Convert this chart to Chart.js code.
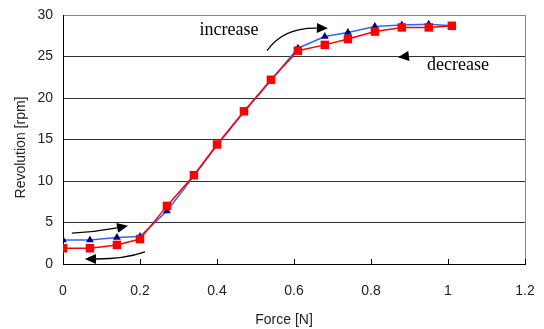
<!DOCTYPE html>
<html>
<head>
<meta charset="utf-8">
<script src="https://cdn.jsdelivr.net/npm/chart.js@4/dist/chart.umd.min.js"></script>
<style>
html,body{margin:0;padding:0;background:#fff;}
canvas{display:block;}
</style>
</head>
<body>
<canvas id="c" width="544" height="329"></canvas>
<script>
// ---- data ----
const forceValues = [0, 0.07, 0.14, 0.2, 0.27, 0.34, 0.4, 0.47, 0.54, 0.61, 0.68, 0.74, 0.81, 0.88, 0.95, 1.01];
const revIncrease = [2.9, 2.9, 3.2, 3.3, 6.4, 10.6, 14.3, 18.3, 22.1, 26.0, 27.4, 27.9, 28.6, 28.8, 28.9, 28.7];
const revDecrease = [1.9, 1.9, 2.3, 3.0, 7.0, 10.7, 14.4, 18.4, 22.2, 25.7, 26.4, 27.1, 28.0, 28.5, 28.5, 28.7];
const xTickLabels = ['0', '0.2', '0.4', '0.6', '0.8', '1', '1.2'];
const yTickLabels = ['0', '5', '10', '15', '20', '25', '30'];
const xTitle = 'Force [N]';
const yTitle = 'Revolution [rpm]';
const annotationTexts = ['increase', 'decrease'];

// annotation geometry in data units (x: force, y: revolution)
const arrows = [
  {from: [0.530, 25.7], ctrl: [0.571, 28.5], tip: [0.688, 28.4], curve: true},
  {from: [0.904, 25.1], ctrl: [0.904, 25.1], tip: [0.870, 24.9], curve: false},
  {from: [0.023, 3.73], ctrl: [0.083, 3.86], tip: [0.169, 4.6], curve: true},
  {from: [0.213, 1.45], ctrl: [0.161, 0.6], tip: [0.057, 0.6], curve: true}
];
const textPos = [[0.431, 28.2], [1.026, 24.0]];

const toPts = (ys) => forceValues.map((x, i) => ({x: x, y: ys[i]}));

const decorPlugin = {
  id: 'decor',
  afterDraw(chart) {
    const ctx = chart.ctx, xs = chart.scales.x, ys = chart.scales.y, a = chart.chartArea;
    ctx.save();
    // right frame
    ctx.strokeStyle = '#888';
    ctx.lineWidth = 1;
    ctx.beginPath();
    ctx.moveTo(Math.round(a.right) + 0.5, a.top);
    ctx.lineTo(Math.round(a.right) + 0.5, a.bottom);
    ctx.stroke();
    // inward x tick marks
    ctx.strokeStyle = '#000';
    xs.ticks.forEach(t => {
      const px = Math.round(xs.getPixelForValue(t.value)) + 0.5;
      ctx.beginPath();
      ctx.moveTo(px, a.bottom);
      ctx.lineTo(px, a.bottom - 5);
      ctx.stroke();
    });
    // arrows
    ctx.strokeStyle = '#000';
    ctx.fillStyle = '#000';
    ctx.lineWidth = 1.3;
    arrows.forEach(ar => {
      const f = [xs.getPixelForValue(ar.from[0]), ys.getPixelForValue(ar.from[1])];
      const c = [xs.getPixelForValue(ar.ctrl[0]), ys.getPixelForValue(ar.ctrl[1])];
      const t = [xs.getPixelForValue(ar.tip[0]), ys.getPixelForValue(ar.tip[1])];
      const dx = t[0] - c[0], dy = t[1] - c[1];
      const len = Math.hypot(dx, dy) || 1;
      const ux = dx / len, uy = dy / len;
      const hl = 11, hw = 5;
      const base = [t[0] - ux * hl, t[1] - uy * hl];
      if (ar.curve) {
        ctx.beginPath();
        ctx.moveTo(f[0], f[1]);
        ctx.quadraticCurveTo(c[0], c[1], base[0], base[1]);
        ctx.stroke();
      }
      ctx.beginPath();
      ctx.moveTo(t[0], t[1]);
      ctx.lineTo(base[0] - uy * hw, base[1] + ux * hw);
      ctx.lineTo(base[0] + uy * hw, base[1] - ux * hw);
      ctx.closePath();
      ctx.fill();
    });
    // annotation texts
    ctx.font = '18px "Liberation Serif", "Times New Roman", serif';
    ctx.textAlign = 'center';
    ctx.textBaseline = 'middle';
    annotationTexts.forEach((s, i) => {
      ctx.fillText(s, xs.getPixelForValue(textPos[i][0]), ys.getPixelForValue(textPos[i][1]));
    });
    // axis titles
    ctx.fillStyle = '#222';
    ctx.font = '14px "Liberation Sans", Arial, sans-serif';
    ctx.fillText(xTitle, (a.left + a.right) / 2 - 10, 320);
    ctx.translate(21, (a.top + a.bottom) / 2 + 8);
    ctx.rotate(-Math.PI / 2);
    ctx.fillText(yTitle, 0, 0);
    ctx.restore();
  }
};

new Chart(document.getElementById('c'), {
  type: 'line',
  data: {
    datasets: [
      {
        label: 'decrease',
        data: toPts(revDecrease),
        borderColor: '#ff0000',
        backgroundColor: '#ff0000',
        borderWidth: 1.5,
        pointStyle: 'rect',
        pointRadius: 6,
        pointBorderWidth: 0,
        tension: 0,
        order: 1
      },
      {
        label: 'increase',
        data: toPts(revIncrease),
        borderColor: '#3366ff',
        backgroundColor: '#000080',
        borderWidth: 1.5,
        pointStyle: 'triangle',
        pointRadius: 4.5,
        pointBorderWidth: 0,
        tension: 0,
        order: 2
      }
    ]
  },
  options: {
    responsive: false,
    animation: false,
    layout: {padding: {left: 0, top: 15, right: 19, bottom: 0}},
    plugins: {legend: {display: false}, tooltip: {enabled: false}},
    scales: {
      x: {
        type: 'linear',
        min: 0, max: 1.2,
        afterFit: s => { s.height = 65; s.paddingLeft = 0; s.paddingRight = 0; },
        afterBuildTicks: s => { s.ticks = xTickLabels.map(v => ({value: parseFloat(v)})); },
        ticks: {
          callback: (v, i) => xTickLabels[i],
          padding: 19,
          maxRotation: 0,
          autoSkip: false,
          color: '#222',
          font: {family: '"Liberation Sans", Arial, sans-serif', size: 14}
        },
        grid: {display: false, drawTicks: false},
        border: {display: true, color: '#000', width: 1}
      },
      y: {
        min: 0, max: 30,
        afterFit: s => { s.width = 63; s.paddingTop = 0; s.paddingBottom = 0; },
        afterBuildTicks: s => { s.ticks = yTickLabels.map(v => ({value: parseFloat(v)})); },
        ticks: {
          callback: (v, i) => yTickLabels[i],
          padding: 10,
          color: '#222',
          font: {family: '"Liberation Sans", Arial, sans-serif', size: 14}
        },
        grid: {
          drawTicks: false,
          color: c => (c.tick && c.tick.value === 30) ? '#888' : '#333',
          lineWidth: 1
        },
        border: {display: true, color: '#000', width: 1}
      }
    }
  },
  plugins: [decorPlugin]
});
</script>
</body>
</html>
